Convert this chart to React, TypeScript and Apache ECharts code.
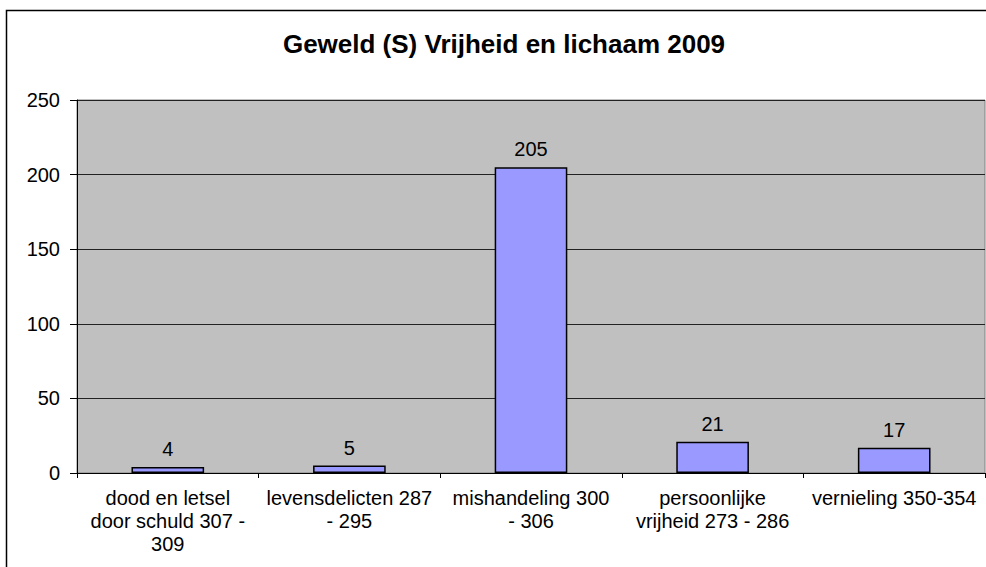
import React, { useEffect, useRef } from "react";
import * as echarts from "echarts";

const chartTitle = "Geweld (S) Vrijheid en lichaam 2009";
const categories = [
  "dood en letsel\ndoor schuld 307 -\n309",
  "levensdelicten 287\n- 295",
  "mishandeling 300\n- 306",
  "persoonlijke\nvrijheid 273 - 286",
  "vernieling 350-354",
];
const values = [4, 5, 205, 21, 17];
const yMin = 0;
const yMax = 250;
const yInterval = 50;

const FONT = "'Liberation Sans', Arial, sans-serif";

export default function App() {
  const ref = useRef<HTMLDivElement>(null);
  useEffect(() => {
    if (!ref.current) return;
    const chart = echarts.init(ref.current, null, { renderer: "svg" });
    chart.setOption({
      animation: false,
      backgroundColor: "#ffffff",
      textStyle: { fontFamily: FONT },
      graphic: [
        {
          type: "rect",
          shape: { x: 6.5, y: 10.5, width: 1100, height: 700 },
          style: { fill: "none", stroke: "#000000", lineWidth: 1.5 },
          silent: true,
          z: 100,
        },
        {
          type: "text",
          x: 504,
          y: 44,
          style: {
            text: chartTitle,
            fontFamily: FONT,
            fontWeight: "bold",
            fontSize: 26,
            fill: "#000000",
            textAlign: "center",
            textVerticalAlign: "middle",
          },
        },
      ],
      grid: {
        left: 77,
        right: 1,
        top: 100,
        bottom: 94,
        show: true,
        backgroundColor: "#C0C0C0",
        borderColor: "#808080",
        borderWidth: 1,
      },
      xAxis: {
        type: "category",
        data: categories,
        axisLine: { show: true, lineStyle: { color: "#000000", width: 1 } },
        axisTick: { show: true, alignWithLabel: false, length: 5, lineStyle: { color: "#000000" } },
        axisLabel: {
          interval: 0,
          margin: 13,
          fontSize: 20,
          lineHeight: 23,
          color: "#000000",
          fontFamily: FONT,
          align: "center",
        },
      },
      yAxis: {
        type: "value",
        min: yMin,
        max: yMax,
        interval: yInterval,
        axisLine: { show: true, lineStyle: { color: "#000000", width: 1 } },
        axisTick: { show: true, length: 7, lineStyle: { color: "#000000" } },
        axisLabel: { margin: 17, fontSize: 20, color: "#000000", fontFamily: FONT },
        splitLine: { show: true, lineStyle: { color: "#222222", width: 1 } },
      },
      series: [
        {
          type: "bar",
          data: values,
          barWidth: "40%",
          itemStyle: { color: "#9999FF", borderColor: "#000000", borderWidth: 1.5 },
          label: {
            show: true,
            position: "top",
            distance: 8,
            fontSize: 20,
            color: "#000000",
            fontFamily: FONT,
          },
        },
      ],
    });
    return () => chart.dispose();
  }, []);
  return (
    <div
      ref={ref}
      style={{ position: "fixed", left: 0, top: 0, width: 986, height: 567 }}
    />
  );
}
